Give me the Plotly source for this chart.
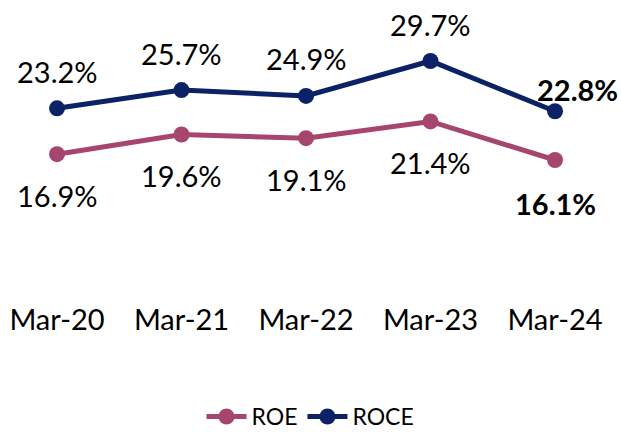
import plotly.graph_objects as go

periods = ["Mar-20", "Mar-21", "Mar-22", "Mar-23", "Mar-24"]
roe = [16.9, 19.6, 19.1, 21.4, 16.1]
roce = [23.2, 25.7, 24.9, 29.7, 22.8]

ROE_COLOR = "#A6466F"
ROCE_COLOR = "#0B2366"
FONT = "Lato, Carlito, Calibri, sans-serif"

fig = go.Figure()
fig.add_trace(go.Scatter(x=periods, y=roe, name="ROE", mode="lines+markers",
                         line=dict(color=ROE_COLOR, width=5),
                         marker=dict(color=ROE_COLOR, size=16)))
fig.add_trace(go.Scatter(x=periods, y=roce, name="ROCE", mode="lines+markers",
                         line=dict(color=ROCE_COLOR, width=5),
                         marker=dict(color=ROCE_COLOR, size=16)))

annotations = []
n = len(periods)
for i, (p, v) in enumerate(zip(periods, roce)):
    last = i == n - 1
    annotations.append(dict(x=p, y=v, xref="x", yref="y",
                            text=(f"<b>{v:.1f}%</b>" if last else f"{v:.1f}%"),
                            showarrow=False,
                            xshift=22 if last else 0,
                            yshift=22 if last else 37,
                            font=dict(family=FONT, size=29, color="#000000")))
for i, (p, v) in enumerate(zip(periods, roe)):
    last = i == n - 1
    annotations.append(dict(x=p, y=v, xref="x", yref="y",
                            text=(f"<b>{v:.1f}%</b>" if last else f"{v:.1f}%"),
                            showarrow=False,
                            yshift=-43 if last else -41,
                            font=dict(family=FONT, size=29, color="#000000")))

fig.update_layout(
    width=621, height=433,
    margin=dict(l=0, r=0, t=0, b=133, autoexpand=False),
    paper_bgcolor="white", plot_bgcolor="white",
    font=dict(family=FONT, color="#000000"),
    showlegend=True,
    legend=dict(orientation="h", x=0.5, xanchor="center", xref="paper",
                y=0.038, yanchor="middle", yref="container",
                font=dict(family=FONT, size=23, color="#000000"),
                itemwidth=40, tracegroupgap=0),
    annotations=annotations,
    xaxis=dict(type="category", range=[-0.458, 4.53], showgrid=False, zeroline=False,
               showline=False, ticks="", automargin=False,
               tickfont=dict(family=FONT, size=29, color="#000000")),
    yaxis=dict(range=[-3.13, 38.08], visible=False, showgrid=False, zeroline=False),
)

fig.write_html("out.html",
               config={"displayModeBar": False},
               post_script="document.body.style.margin='0';document.body.style.overflow='hidden';")
